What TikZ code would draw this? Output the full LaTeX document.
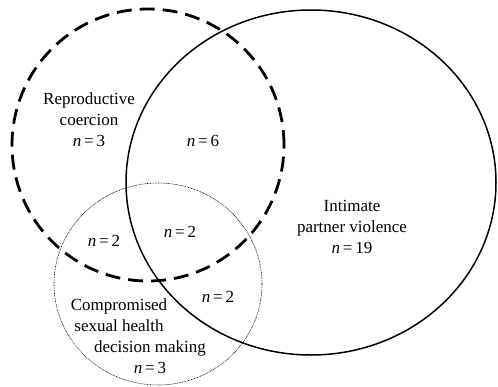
\documentclass[tikz,border=0pt]{standalone}
\usepackage{fontspec}
\setmainfont{Liberation Serif}
\usetikzlibrary{shapes.geometric}
\tikzset{
  set/.style  = {draw=black, fill=none, inner sep=0pt, outer sep=0pt},
  rcset/.style  = {set, circle, line width=2.8pt, dash pattern=on 15pt off 8pt,
                   minimum size=272pt},
  ipvset/.style = {set, ellipse, line width=1.5pt, minimum width=370pt,
                   minimum height=345pt},
  cshset/.style = {set, ellipse, line width=0.6pt, dash pattern=on 0.8pt off 0.8pt,
                   minimum width=208pt, minimum height=202pt},
  lbl/.style  = {align=center, inner sep=0pt, font=\fontsize{17}{21}\selectfont},
}
\newcommand{\nval}[1]{\textit{n}\,=\,#1}

\begin{document}
\begin{tikzpicture}[x=1pt, y=-1pt]
\useasboundingbox (0,0) rectangle (498,386);

\node[ipvset] (ipv) at (311,182.5) {};
\node[rcset] (rc) at (148,145) {};
\node[cshset] (csh) at (158,284) {};

\node[lbl] (rclbl) at (89,120) {Reproductive\\coercion\\\nval{3}};
\node[lbl] (rcipv) at (203,141) {\nval{6}};
\node[lbl] (ipvlbl) at (352,227) {Intimate\\partner violence\\\nval{19}};
\node[lbl] (rccsh) at (104,241) {\nval{2}};
\node[lbl] (allthree) at (180,232) {\nval{2}};
\node[lbl] (ipvcsh) at (218,297) {\nval{2}};
\node[lbl] (cshlbl) at (119,315) {Compromised\\sexual health};
\node[lbl] (cshn) at (150,357) {decision making\\\nval{3}};

\end{tikzpicture}
\end{document}
